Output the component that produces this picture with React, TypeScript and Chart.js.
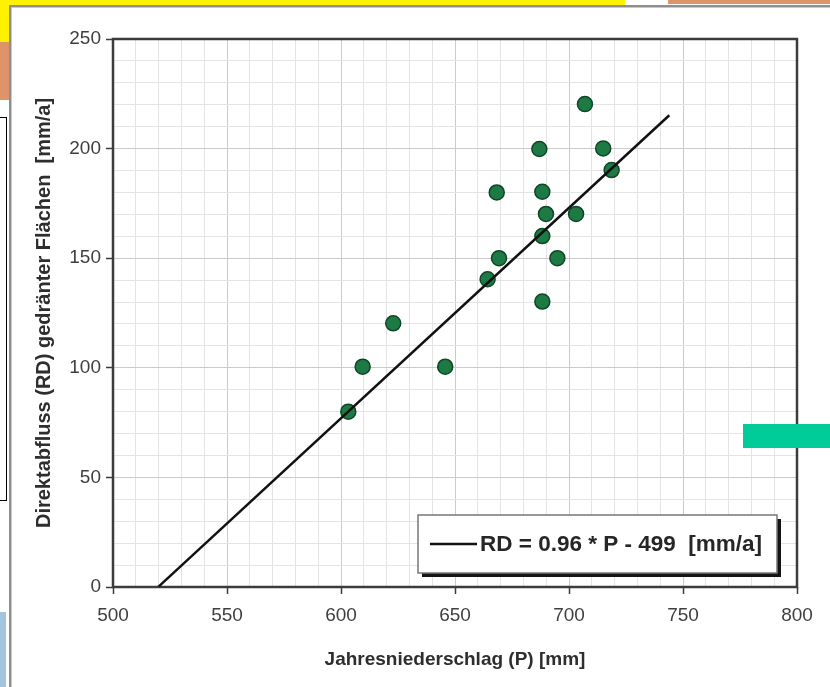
import React, { useEffect, useRef } from "react";
import { Chart, registerables } from "chart.js";

Chart.register(...registerables);

// ---- data ----
const precipitation = [603.2, 609.5, 622.9, 645.7, 664.3, 669.3, 668.3, 687.0, 688.3, 689.9, 688.3, 688.3, 694.9, 703.1, 707.0, 715.0, 718.7];
const directRunoff = [80, 100.5, 120.3, 100.5, 140.4, 150, 180, 199.8, 180.3, 170.2, 160.1, 130.2, 150, 170.2, 220.3, 200.1, 190.2];
const regressionP = [520, 744];
const regressionRD = [0.2, 215.2];
const xTickLabels = [500, 550, 600, 650, 700, 750, 800];
const yTickLabels = [0, 50, 100, 150, 200, 250];
const regressionLabel = "RD = 0.96 * P - 499  [mm/a]";
const xTitle = "Jahresniederschlag (P) [mm]";
const yTitle = "Direktabfluss (RD) gedränter Flächen  [mm/a]";

const FONT = '"Liberation Sans", Arial, sans-serif';

export default function App() {
  const ref = useRef<HTMLCanvasElement>(null);

  useEffect(() => {
    const canvas = ref.current!;

    const framePlugin = {
      id: "frame",
      beforeDatasetsDraw(chart: any) {
        const { ctx, chartArea: a } = chart;
        ctx.save();
        ctx.strokeStyle = "#3c3c3c";
        ctx.lineWidth = 2.5;
        ctx.strokeRect(a.left, a.top, a.right - a.left, a.bottom - a.top);
        ctx.restore();
      },
    };

    const legendPlugin = {
      id: "legendBox",
      afterDatasetsDraw(chart: any) {
        const { ctx, chartArea: a } = chart;
        const w = 359;
        const h = 58;
        const x = a.right - 20 - w;
        const y = a.bottom - 14 - h;
        ctx.save();
        ctx.fillStyle = "#151515";
        ctx.fillRect(x + 4, y + 4, w, h);
        ctx.fillStyle = "#ffffff";
        ctx.fillRect(x, y, w, h);
        ctx.strokeStyle = "#777";
        ctx.lineWidth = 1.5;
        ctx.strokeRect(x, y, w, h);
        const cy = y + h / 2;
        ctx.strokeStyle = "#111";
        ctx.lineWidth = 2.5;
        ctx.beginPath();
        ctx.moveTo(x + 12, cy);
        ctx.lineTo(x + 59, cy);
        ctx.stroke();
        ctx.fillStyle = "#262626";
        ctx.font = `bold 22.5px ${FONT}`;
        ctx.textBaseline = "middle";
        ctx.textAlign = "left";
        ctx.fillText(chart.data.datasets[0].label, x + 62, cy + 1);
        ctx.restore();
      },
    };

    const gridColor = (ctx: any) =>
      ctx.tick && ctx.tick.value % 50 === 0 ? "#cbcbcb" : "#e4e4e4";
    const tickColor = (ctx: any) =>
      ctx.tick && ctx.tick.value % 50 === 0 ? "#3c3c3c" : "rgba(0,0,0,0)";

    const chart = new Chart(canvas, {
      type: "scatter",
      data: {
        datasets: [
          {
            label: regressionLabel,
            data: regressionP.map((p, i) => ({ x: p, y: regressionRD[i] })),
            showLine: true,
            borderColor: "#111",
            borderWidth: 2.5,
            pointRadius: 0,
            fill: false,
          } as any,
          {
            label: "Messwerte",
            data: precipitation.map((p, i) => ({ x: p, y: directRunoff[i] })),
            backgroundColor: "#1d7a44",
            borderColor: "#0f4726",
            borderWidth: 1.5,
            pointRadius: 7.5,
          },
        ],
      },
      options: {
        animation: false,
        responsive: false,
        layout: { padding: { left: 0, top: 39, right: 33, bottom: 0 } },
        plugins: {
          legend: { display: false },
          tooltip: { enabled: false },
        },
        scales: {
          x: {
            type: "linear",
            min: 500,
            max: 800,
            afterFit(scale: any) {
              scale.height = 100;
            },
            border: { display: false },
            grid: {
              color: gridColor,
              tickColor: tickColor,
              tickLength: 7,
              tickWidth: 1.5,
              lineWidth: 1,
            },
            ticks: {
              stepSize: 10,
              maxTicksLimit: 100,
              autoSkip: false,
              maxRotation: 0,
              minRotation: 0,
              padding: 10,
              color: "#3f3f3f",
              font: { family: FONT, size: 19 },
              callback: (v: any) => (xTickLabels.includes(Number(v)) ? String(v) : ""),
            },
            title: {
              display: true,
              text: xTitle,
              color: "#2e2e2e",
              font: { family: FONT, size: 19, weight: "bold" },
              padding: { top: 0, bottom: 16 },
            },
          },
          y: {
            type: "linear",
            min: 0,
            max: 250,
            afterFit(scale: any) {
              scale.width = 113;
            },
            border: { display: false },
            grid: {
              color: gridColor,
              tickColor: tickColor,
              tickLength: 7,
              tickWidth: 1.5,
              lineWidth: 1,
            },
            ticks: {
              stepSize: 10,
              maxTicksLimit: 100,
              autoSkip: false,
              padding: 5,
              color: "#3f3f3f",
              font: { family: FONT, size: 19 },
              callback: (v: any) => (yTickLabels.includes(Number(v)) ? String(v) : ""),
            },
            title: {
              display: true,
              text: yTitle,
              color: "#2e2e2e",
              font: { family: FONT, size: 20, weight: "bold" },
              padding: { top: 32, bottom: 0 },
            },
          },
        },
      },
      plugins: [framePlugin, legendPlugin],
    } as any);

    return () => chart.destroy();
  }, []);

  return (
    <div
      style={{
        position: "fixed",
        left: 0,
        top: 0,
        width: 830,
        height: 687,
        overflow: "hidden",
        background: "#ffffff",
      }}
    >
      {/* surrounding page fragments */}
      <div style={{ position: "absolute", left: 0, top: 0, width: 625, height: 42, background: "#fff200" }} />
      <div style={{ position: "absolute", left: 0, top: 42, width: 10, height: 58, background: "#dc9468" }} />
      <div style={{ position: "absolute", left: 668, top: 0, width: 162, height: 4, background: "#dc9468" }} />
      <div
        style={{
          position: "absolute",
          left: 0,
          top: 117,
          width: 6,
          height: 382,
          background: "#fff",
          border: "1.5px solid #000",
          borderLeft: "none",
        }}
      />
      <div style={{ position: "absolute", left: 0, top: 612, width: 6, height: 75, background: "#a3c4dc" }} />
      {/* chart card */}
      <div
        style={{
          position: "absolute",
          left: 9,
          top: 5,
          width: 900,
          height: 800,
          background: "#ffffff",
          border: "2px solid #8e8e8e",
          boxShadow: "inset 1px 1px 0 #c8c8c8",
        }}
      />
      <canvas
        ref={ref}
        width={830}
        height={687}
        style={{ position: "absolute", left: 0, top: 0, width: 830, height: 687 }}
      />
      <div style={{ position: "absolute", left: 743, top: 424, width: 87, height: 24, background: "#00cc99" }} />
    </div>
  );
}
